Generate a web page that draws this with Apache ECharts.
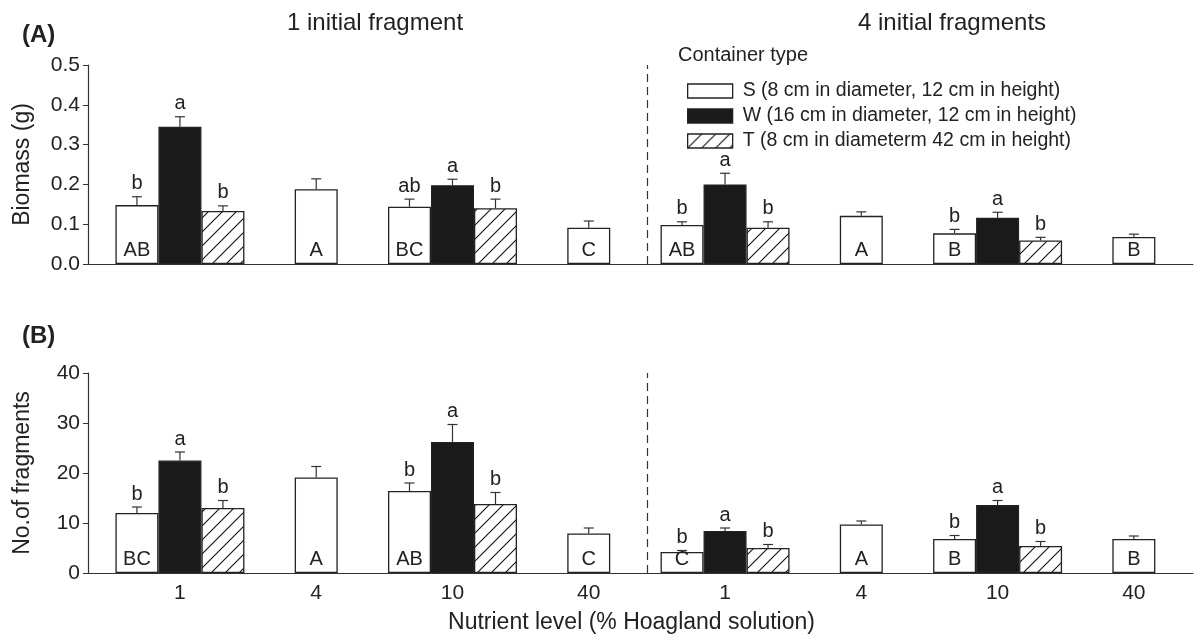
<!DOCTYPE html>
<html>
<head>
<meta charset="utf-8">
<script src="https://cdn.jsdelivr.net/npm/echarts@6/dist/echarts.min.js"></script>
<style>
html,body{margin:0;padding:0;background:#fff;}
#chart{width:1202px;height:640px;}
</style>
</head>
<body>
<div id="chart"></div>
<script>
// ---------------- data ----------------
const levels = ['1', '4', '10', '40', '1', '4', '10', '40'];
const seriesNames = [
  'S (8 cm in diameter, 12 cm in height)',
  'W (16 cm in diameter, 12 cm in height)',
  'T (8 cm in diameterm 42 cm in height)'
];
const groupTitles = ['1 initial fragment', '4 initial fragments'];

// Panel A: biomass (g)
const massS    = [0.148, 0.188, 0.144, 0.091, 0.098, 0.121, 0.077, 0.068];
const massSErr = [0.021, 0.026, 0.019, 0.017, 0.008, 0.010, 0.010, 0.007];
const massW    = [0.345, null, 0.198, null, 0.200, null, 0.116, null];
const massWErr = [0.025, null, 0.015, null, 0.028, null, 0.014, null];
const massT    = [0.133, null, 0.140, null, 0.091, null, 0.059, null];
const massTErr = [0.013, null, 0.023, null, 0.015, null, 0.008, null];
const massLowS = ['b', '', 'ab', '', 'b', '', 'b', ''];
const massLowW = ['a', '', 'a', '', 'a', '', 'a', ''];
const massLowT = ['b', '', 'b', '', 'b', '', 'b', ''];
const massUpper = ['AB', 'A', 'BC', 'C', 'AB', 'A', 'B', 'B'];
const massTicks = [0, 0.5, 0.1];

// Panel B: number of fragments
const numS    = [12.0, 19.1, 16.4, 7.9, 4.2, 9.7, 6.8, 6.8];
const numSErr = [1.2, 2.2, 1.6, 1.1, 0.3, 0.7, 0.7, 0.6];
const numW    = [22.5, null, 26.2, null, 8.4, null, 13.6, null];
const numWErr = [1.7, null, 3.5, null, 0.6, null, 0.9, null];
const numT    = [13.0, null, 13.8, null, 5.0, null, 5.4, null];
const numTErr = [1.5, null, 2.3, null, 0.7, null, 0.9, null];
const numLowS = ['b', '', 'b', '', 'b', '', 'b', ''];
const numLowW = ['a', '', 'a', '', 'a', '', 'a', ''];
const numLowT = ['b', '', 'b', '', 'b', '', 'b', ''];
const numUpper = ['BC', 'A', 'AB', 'C', 'C', 'A', 'B', 'B'];
const numTicks = [0, 40, 10];

// ---------------- layout / style ----------------
const FONT = "'Liberation Sans', Arial, Helvetica, sans-serif";
const INK = '#222';
const BW = 43;                 // bar width (px)
const frameLeft = 88, frameRight = 1193;
const barLeft = 111.8, band = 138.4;
const barWidthTotal = band * levels.length;
const frameMin = (frameLeft - barLeft) / band;
const frameMax = (frameRight - barLeft) / band;
const sepPos = (647 - barLeft) / band;
const panels = [{ top: 65, h: 199 }, { top: 373, h: 200 }];

function hatch() {
  const s = 14;
  const c = document.createElement('canvas');
  c.width = s; c.height = s;
  const g = c.getContext('2d');
  g.fillStyle = '#fff'; g.fillRect(0, 0, s, s);
  g.strokeStyle = '#111'; g.lineWidth = 1.1;
  g.beginPath();
  g.moveTo(0, s); g.lineTo(s, 0);
  g.moveTo(-2, 2); g.lineTo(2, -2);
  g.moveTo(s - 2, s + 2); g.lineTo(s + 2, s - 2);
  g.stroke();
  return c;
}
const hatchPattern = { image: hatch(), repeat: 'repeat' };

const barStyles = [
  { color: '#fff', borderColor: INK, borderWidth: 1.3 },
  { color: '#1a1a1a', borderColor: INK, borderWidth: 1.3 },
  { color: hatchPattern, borderColor: INK, borderWidth: 1.3 }
];

function grouped(vals, ref) { return vals.map((v, i) => ref[i] == null ? null : v); }
function single(vals, ref) { return vals.map((v, i) => ref[i] == null ? v : null); }

function errSeries(xIdx, yIdx, vals, errs, letters, off) {
  const data = [];
  vals.forEach((v, i) => { if (v != null) data.push([i, v, errs[i]]); });
  return {
    type: 'custom', xAxisIndex: xIdx, yAxisIndex: yIdx, z: 5, silent: true,
    encode: { x: 0, y: 1 },
    data: data,
    renderItem: function (params, api) {
      const i = api.value(0), v = api.value(1), e = api.value(2);
      const x = api.coord([i, v])[0] + off * BW;
      const y0 = api.coord([i, v])[1];
      const y1 = api.coord([i, v + e])[1];
      const ls = { stroke: '#333', lineWidth: 1.2 };
      return {
        type: 'group', children: [
          { type: 'line', shape: { x1: x, y1: y0, x2: x, y2: y1 }, style: ls },
          { type: 'line', shape: { x1: x - 5, y1: y1, x2: x + 5, y2: y1 }, style: ls },
          { type: 'text', style: { text: letters[i], x: x, y: y1 - 3, align: 'center', verticalAlign: 'bottom',
              font: '20px ' + FONT, fill: INK } }
        ]
      };
    }
  };
}

function panelSeries(p, S, SE, W, WE, T, TE, lowS, lowW, lowT, upper) {
  const fx = p * 3, bx = p * 3 + 1, sx = p * 3 + 2;
  const fy = p * 2, by = p * 2 + 1;
  const upLabel = {
    show: true, position: 'insideBottom', distance: 4,
    formatter: (q) => upper[q.dataIndex], fontSize: 20, fontFamily: FONT, color: INK
  };
  return [
    { type: 'bar', name: seriesNames[0], xAxisIndex: bx, yAxisIndex: by, data: grouped(S, W),
      barWidth: BW, barGap: '0%', itemStyle: barStyles[0], label: upLabel, silent: true },
    { type: 'bar', name: seriesNames[1], xAxisIndex: bx, yAxisIndex: by, data: W,
      barWidth: BW, barGap: '0%', itemStyle: barStyles[1], silent: true },
    { type: 'bar', name: seriesNames[2], xAxisIndex: bx, yAxisIndex: by, data: T,
      barWidth: BW, barGap: '0%', itemStyle: barStyles[2], silent: true },
    { type: 'bar', name: seriesNames[0], xAxisIndex: sx, yAxisIndex: by, data: single(S, W),
      barWidth: BW, itemStyle: barStyles[0], label: upLabel, silent: true },
    errSeries(bx, by, grouped(S, W), SE, lowS, -1),
    errSeries(bx, by, W, WE, lowW, 0),
    errSeries(bx, by, T, TE, lowT, 1),
    errSeries(bx, by, single(S, W), SE, lowS, 0),
    { type: 'line', xAxisIndex: fx, yAxisIndex: fy, data: [], silent: true,
      markLine: { silent: true, symbol: ['none', 'none'], label: { show: false },
        lineStyle: { type: [8, 5], color: '#333', width: 1.2 },
        data: [{ xAxis: sepPos }] } }
  ];
}

const grids = [], xAxes = [], yAxes = [];
panels.forEach((pn, p) => {
  grids.push({ left: frameLeft, top: pn.top, width: frameRight - frameLeft, height: pn.h });
  grids.push({ left: barLeft, top: pn.top, width: barWidthTotal, height: pn.h });
  xAxes.push({
    type: 'value', gridIndex: p * 2, min: frameMin, max: frameMax,
    axisLine: { show: true, onZero: false, lineStyle: { color: '#333', width: 1.2 } },
    axisTick: { show: false }, axisLabel: { show: false }, splitLine: { show: false },
    name: p === 1 ? 'Nutrient level (% Hoagland solution)' : '',
    nameLocation: 'middle', nameGap: 38,
    nameTextStyle: { fontSize: 23, fontFamily: FONT, color: INK, padding: [0, 18, 0, 0] }
  });
  xAxes.push({
    type: 'category', gridIndex: p * 2 + 1, data: levels,
    axisLine: { show: false }, axisTick: { show: false },
    axisLabel: { show: p === 1, fontSize: 21, fontFamily: FONT, color: INK, margin: 10 }
  });
  xAxes.push({
    type: 'category', gridIndex: p * 2 + 1, data: levels, position: 'top', show: false
  });
  const t = p === 0 ? massTicks : numTicks;
  yAxes.push({
    type: 'value', gridIndex: p * 2, min: t[0], max: t[1], interval: t[2],
    axisLine: { show: true, onZero: false, lineStyle: { color: '#333', width: 1.2 } },
    axisTick: { show: true, inside: false, length: 5, lineStyle: { color: '#333' } },
    axisLabel: { fontSize: 21, fontFamily: FONT, color: INK, margin: 8,
      formatter: p === 0 ? (v) => v.toFixed(1) : (v) => String(v) },
    splitLine: { show: false },
    name: p === 0 ? 'Biomass (g)' : 'No.of fragments',
    nameLocation: 'middle', nameGap: 54,
    nameTextStyle: { fontSize: 23, fontFamily: FONT, color: INK }
  });
  yAxes.push({ type: 'value', gridIndex: p * 2 + 1, min: t[0], max: t[1], show: false });
});

const titleStyle = (size, weight) => ({ fontSize: size, fontWeight: weight, fontFamily: FONT, color: INK });
const option = {
  animation: false,
  backgroundColor: '#fff',
  textStyle: { fontFamily: FONT },
  title: [
    { text: '(A)', left: 22, top: 23, padding: 0, textStyle: titleStyle(24, 'bold') },
    { text: '(B)', left: 22, top: 324, padding: 0, textStyle: titleStyle(24, 'bold') },
    { text: groupTitles[0], left: 375, top: 11, padding: 0, textAlign: 'center', textStyle: titleStyle(24, 'normal') },
    { text: groupTitles[1], left: 952, top: 11, padding: 0, textAlign: 'center', textStyle: titleStyle(24, 'normal') },
    { text: 'Container type', left: 678, top: 45, padding: 0, textStyle: titleStyle(20, 'normal') }
  ],
  legend: {
    data: seriesNames, orient: 'vertical', left: 687, top: 81, padding: 0,
    icon: 'rect', itemWidth: 45, itemHeight: 14, itemGap: 5,
    selectedMode: false,
    textStyle: { fontSize: 19.5, fontFamily: FONT, color: INK, padding: [0, 0, 0, 5] },
    itemStyle: { borderColor: INK, borderWidth: 1.3 }
  },
  grid: grids,
  xAxis: xAxes,
  yAxis: yAxes,
  series: [].concat(
    panelSeries(0, massS, massSErr, massW, massWErr, massT, massTErr, massLowS, massLowW, massLowT, massUpper),
    panelSeries(1, numS, numSErr, numW, numWErr, numT, numTErr, numLowS, numLowW, numLowT, numUpper)
  )
};

const chart = echarts.init(document.getElementById('chart'), null, { renderer: 'canvas' });
chart.setOption(option);
</script>
</body>
</html>
